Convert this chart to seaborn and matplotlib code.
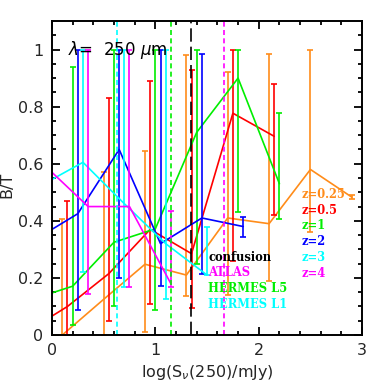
"""
B/T versus 250 micron flux, per redshift bin, with survey depth markers.
"""
import numpy as np
import matplotlib
matplotlib.use("Agg")
import matplotlib.pyplot as plt
import seaborn as sns

nan = np.nan

# per-redshift series: x = log flux bin, y = B/T, lo/hi = error bar ends
z_labels = ["z=0.25", "z=0.5", "z=1", "z=2", "z=3", "z=4"]
z_colors = ["#ff8c1a", "#ff0000", "#00ee00", "#0000ff", "#00ffff", "#ff00ff"]

x_z025 = [-0.3, 0.1, 0.5, 0.9, 1.3, 1.7, 2.1, 2.5, 2.9]
y_z025 = [0.0, 0.0, 0.125, 0.248, 0.21, 0.41, 0.39, 0.58, 0.483]
lo_z025 = [nan, 0.0, 0.0, 0.01, 0.135, 0.14, 0.19, 0.36, 0.475]
hi_z025 = [nan, 0.405, 0.57, 0.643, 0.98, 0.923, 0.985, 1.0, 0.49]

x_z05 = [-0.25, 0.15, 0.55, 0.95, 1.35, 1.75, 2.15]
y_z05 = [0.01, 0.10, 0.215, 0.37, 0.285, 0.777, 0.696]
lo_z05 = [nan, 0.0, 0.048, 0.11, 0.094, 0.26, 0.42]
hi_z05 = [nan, 0.47, 0.83, 0.89, 0.927, 1.0, 0.878]

x_z1 = [-0.2, 0.2, 0.6, 1.0, 1.4, 1.8, 2.2]
y_z1 = [0.124, 0.171, 0.325, 0.372, 0.71, 0.90, 0.53]
lo_z1 = [nan, 0.035, 0.10, 0.087, 0.25, 0.43, 0.405]
hi_z1 = [nan, 0.94, 1.0, 1.0, 1.0, 1.0, 0.777]

x_z2 = [-0.15, 0.25, 0.65, 1.05, 1.45, 1.85]
y_z2 = [0.337, 0.425, 0.65, 0.32, 0.41, 0.38]
lo_z2 = [nan, 0.087, 0.2, 0.17, 0.213, 0.343]
hi_z2 = [nan, 1.0, 1.0, 1.0, 0.985, 0.413]

x_z3 = [-0.1, 0.3, 0.7, 1.1, 1.5]
y_z3 = [0.525, 0.605, 0.46, 0.32, 0.21]
lo_z3 = [nan, 0.22, 0.168, 0.125, 0.21]
hi_z3 = [nan, 1.0, 1.0, 1.0, 0.378]

x_z4 = [-0.05, 0.35, 0.75, 1.15]
y_z4 = [0.587, 0.45, 0.45, 0.18]
lo_z4 = [nan, 0.145, 0.168, 0.168]
hi_z4 = [nan, 1.0, 1.0, 0.435]

# flux limits (log mJy) drawn as dashed verticals
limit_names = ["confusion", "ATLAS", "HERMES L5", "HERMES L1"]
limit_x = [1.343, 1.665, 1.152, 0.626]
limit_colors = ["black", "#ff00ff", "#00ee00", "#00ffff"]

series = [
    (x_z025, y_z025, lo_z025, hi_z025),
    (x_z05, y_z05, lo_z05, hi_z05),
    (x_z1, y_z1, lo_z1, hi_z1),
    (x_z2, y_z2, lo_z2, hi_z2),
    (x_z3, y_z3, lo_z3, hi_z3),
    (x_z4, y_z4, lo_z4, hi_z4),
]

sns.set_theme(style="ticks")
plt.rcParams["font.family"] = ["DejaVu Sans"]

fig = plt.figure(figsize=(3.82, 3.82), dpi=100)
ax = fig.add_axes([0.136, 0.123, 0.812, 0.822])

for (xs, ys, lo, hi), col in zip(series, z_colors):
    xs = np.array(xs); ys = np.array(ys); lo = np.array(lo); hi = np.array(hi)
    sns.lineplot(x=xs, y=ys, ax=ax, color=col, lw=1.2, sort=False,
                 estimator=None)
    ok = ~np.isnan(lo)
    ax.errorbar(xs[ok], ys[ok], yerr=[ys[ok] - lo[ok], hi[ok] - ys[ok]],
                fmt="none", ecolor=col, elinewidth=1.2, capsize=2.2,
                capthick=1.2)

# survey / confusion limits
for name, xv, col in zip(limit_names, limit_x, limit_colors):
    if name == "confusion":
        ax.axvline(xv, color=col, lw=1.2, dashes=(8, 3))
    else:
        ax.axvline(xv, color=col, lw=1.2, dashes=(3, 2))

ax.set_xlim(0, 3)
ax.set_ylim(0, 1.1)
ax.set_xticks([0, 1, 2, 3])
ax.set_xticks(np.arange(0, 3.01, 0.2), minor=True)
ax.set_yticks([0, 0.2, 0.4, 0.6, 0.8, 1])
ax.set_yticklabels(["0", "0.2", "0.4", "0.6", "0.8", "1"])
ax.set_yticks(np.arange(0, 1.1, 0.05), minor=True)
ax.tick_params(which="both", direction="in", top=True, right=True,
               width=1.3, labelsize=11.5, color="black")
ax.tick_params(which="major", length=6, pad=6)
ax.tick_params(which="minor", length=3)
for sp in ax.spines.values():
    sp.set_linewidth(1.4)
    sp.set_color("black")

ax.set_xlabel(r"log(S$_\nu$(250)/mJy)", fontsize=11.5, labelpad=3)
ax.set_ylabel("B/T", fontsize=11.5)
ax.yaxis.set_label_coords(-0.12, 0.478)

ax.text(0.16, 1.0, r"$\lambda$=  250 $\mu$m", fontsize=12, va="center",
        ha="left", color="black")

# legend as coloured text
for i, (lab, col) in enumerate(zip(z_labels, z_colors)):
    ax.text(2.41, 0.493 - i * 0.0552, lab, color=col, fontsize=8.3,
            family="DejaVu Serif", weight="bold", va="center", ha="left")
for i, (lab, col) in enumerate(zip(limit_names, limit_colors)):
    ax.text(1.51, 0.273 - i * 0.055, lab, color=col, fontsize=8.3,
            family="DejaVu Serif", weight="bold", va="center", ha="left")

fig.savefig("out.png", dpi=100)
